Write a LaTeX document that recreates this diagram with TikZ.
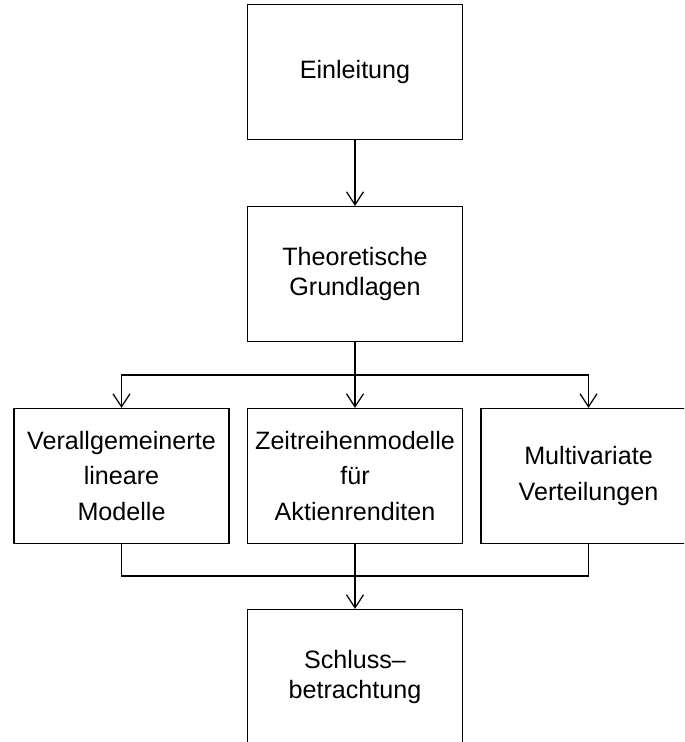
\documentclass[tikz,border=0pt]{standalone}
\usepackage{fontspec}
\setmainfont{Liberation Sans}
\usepackage{tikz}
\usetikzlibrary{positioning}
\usetikzlibrary{arrows.meta}

\begin{document}
\begin{tikzpicture}[
    x=0.02cm, y=-0.02cm,
    font=\fontsize{14.3}{17.5}\selectfont,
    chapter/.style={rectangle,draw,line width=0.7pt,align=center,minimum width=4.3cm,minimum height=2.7cm},
    part/.style={chapter,font=\fontsize{14.3}{20}\selectfont},
    link/.style={line width=0.7pt},
    arrow/.style={link,-{Straight Barb[length=2.6mm,width=3.4mm]}}
]
\clip (0,0) rectangle (684,742);

\node[chapter] (einleitung) at (355,72) {Einleitung};
\node[chapter] (grundlagen) at (355,274) {Theoretische\\Grundlagen};
\node[part] (glm) at (121.5,476) {Verallgemeinerte\\lineare\\Modelle};
\node[part] (zeitreihen) at (355,476) {Zeitreihenmodelle\\für\\Aktienrenditen};
\node[part] (multivariat) at (588.5,476) {Multivariate\\Verteilungen};
\node[chapter] (schluss) at (355,677) {Schluss–\\betrachtung};
\coordinate (split) at (355,375);
\coordinate (merge) at (355,576);

\draw[arrow] (einleitung) -- (grundlagen);
\draw[link] (grundlagen) -- (split);
\draw[arrow] (split) -| (glm);
\draw[arrow] (split) -- (zeitreihen);
\draw[arrow] (split) -| (multivariat);
\draw[link] (glm) |- (merge);
\draw[link] (multivariat) |- (merge);
\draw[arrow] (zeitreihen) -- (schluss);
\end{tikzpicture}
\end{document}
